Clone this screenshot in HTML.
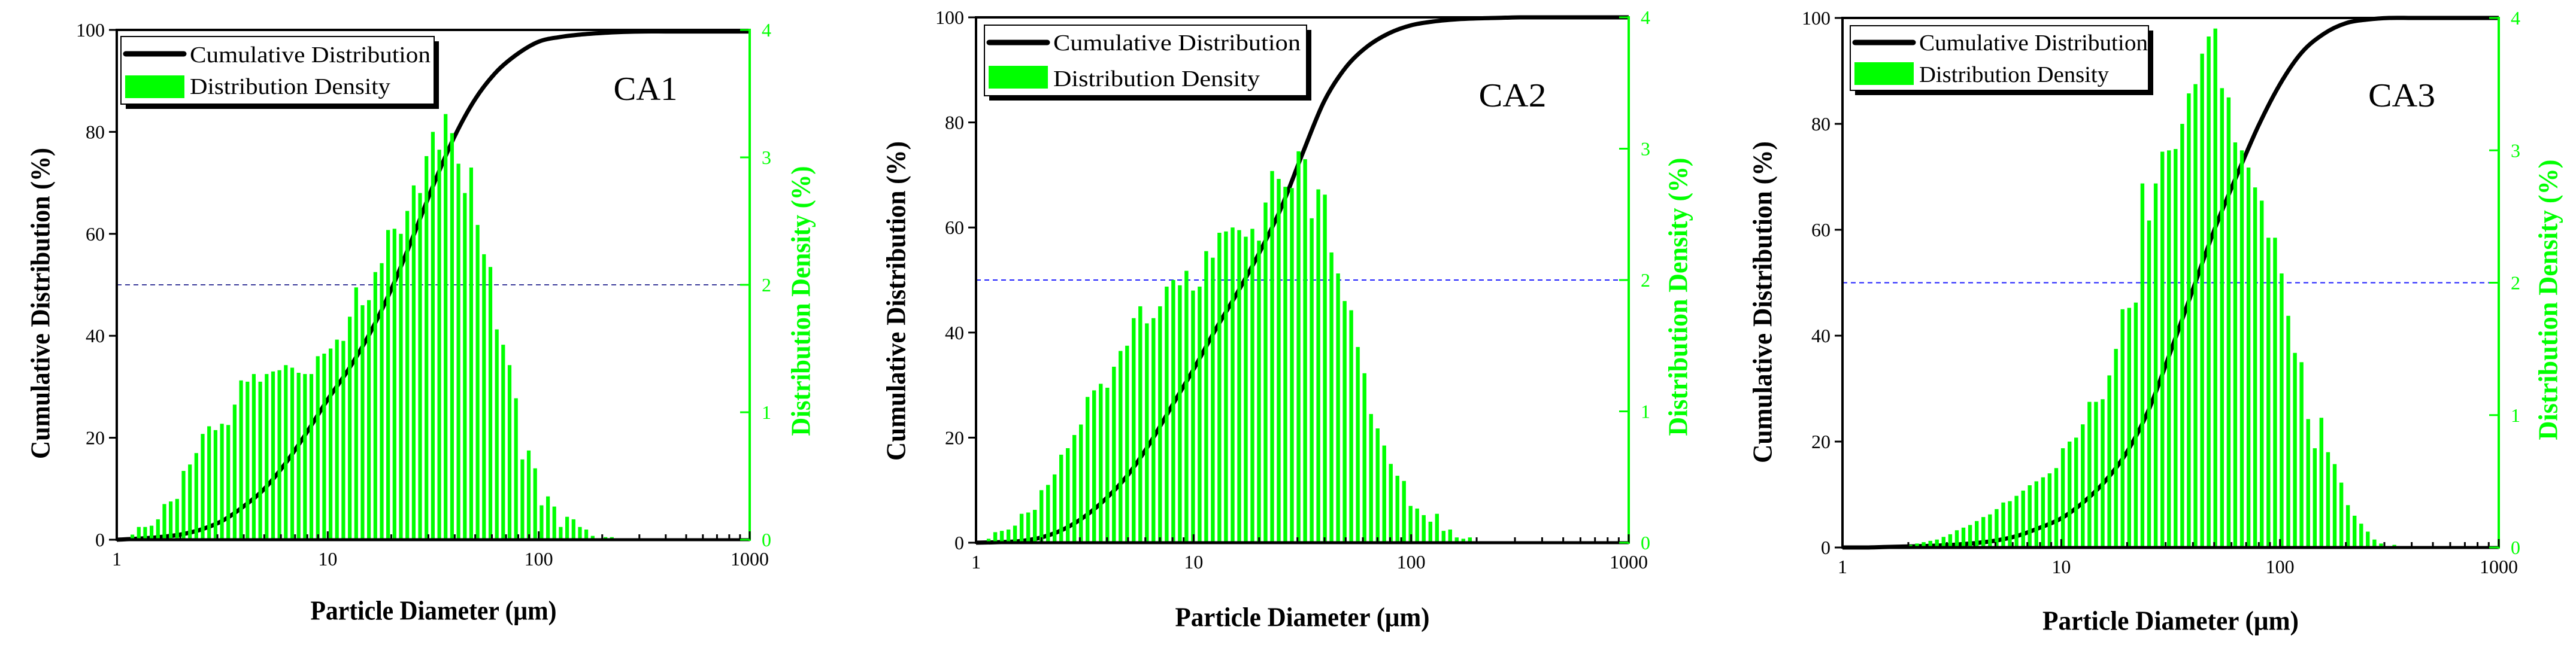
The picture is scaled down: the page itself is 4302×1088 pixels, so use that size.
<!DOCTYPE html>
<html><head><meta charset="utf-8"><style>
html,body{margin:0;padding:0;background:#fff;}
svg{display:block;}
text{font-family:"Liberation Serif",serif;}
</style></head>
<body>
<svg id="fig" width="4302" height="1088" viewBox="0 0 4302 1088" xmlns="http://www.w3.org/2000/svg"></svg>
<script>
// ---- data ----
const binsPerDecade = 33;
const xTickLabels = ["1","10","100","1000"];
const leftTickLabels = ["0","20","40","60","80","100"];
const rightTickLabels = ["0","1","2","3","4"];
const cumLogD = [0,0.1,0.2,0.3,0.4,0.5,0.6,0.7,0.8,0.9,1.0,1.1,1.2,1.3,1.4,1.5,1.6,1.7,1.8,1.9,2.0,2.1,2.2,2.3,2.4,2.5,2.6,2.7,2.8,2.9,3.0];

const ca1FirstBinLog = 0.074;
const ca1Density = [0.04,0.1,0.1,0.11,0.16,0.28,0.3,0.32,0.54,0.59,0.68,0.83,0.89,0.86,0.91,0.9,1.06,1.25,1.24,1.3,1.24,1.3,1.32,1.33,1.37,1.35,1.31,1.3,1.3,1.44,1.46,1.5,1.57,1.56,1.75,1.98,1.84,1.88,2.1,2.17,2.43,2.44,2.4,2.58,2.78,2.72,3.01,3.2,3.06,3.34,3.19,2.95,2.72,2.92,2.47,2.24,2.14,1.65,1.53,1.37,1.11,0.63,0.7,0.56,0.27,0.34,0.26,0.1,0.18,0.16,0.1,0.08,0.03,0.01,0.02,0.02];
const ca1Cum = [0,0.2,0.5,1,2,3.7,6.5,10,15,21,27.5,33.5,40.5,49,59,69.5,79,86.5,91.8,95.3,97.7,98.6,99.1,99.4,99.6,99.7,99.7,99.7,99.7,99.7,99.7];

const ca2FirstBinLog = 0.058;
const ca2Density = [0.03,0.08,0.09,0.1,0.13,0.22,0.23,0.25,0.4,0.44,0.52,0.67,0.72,0.82,0.9,1.11,1.16,1.21,1.18,1.34,1.46,1.5,1.71,1.8,1.67,1.71,1.8,1.95,2.0,1.96,2.07,1.92,1.95,2.22,2.17,2.36,2.37,2.4,2.38,2.33,2.39,2.3,2.59,2.83,2.77,2.71,2.7,2.98,2.92,2.47,2.69,2.65,2.21,2.05,1.84,1.77,1.49,1.29,0.98,0.87,0.74,0.6,0.51,0.47,0.28,0.26,0.21,0.16,0.22,0.09,0.1,0.04,0.03,0.04,0.01];
const ca2Cum = [0,0.1,0.3,1,2.5,5,8.5,13,19,26,33,40.5,47.5,55,63.5,74,84,90.5,94.5,97,98.5,99.2,99.6,99.8,99.9,100,100,100,100,100,100];

const ca3FirstBinLog = 0.25;
const ca3Density = [0.01,0.01,0.02,0.03,0.04,0.05,0.06,0.08,0.1,0.13,0.15,0.17,0.2,0.23,0.25,0.29,0.34,0.35,0.39,0.43,0.47,0.5,0.53,0.56,0.6,0.75,0.8,0.83,0.93,1.1,1.1,1.12,1.3,1.5,1.8,1.81,1.85,2.75,2.47,2.75,2.99,3.0,3.01,3.2,3.43,3.5,3.73,3.86,3.92,3.47,3.4,3.06,3.0,2.87,2.72,2.62,2.34,2.34,2.07,1.75,1.47,1.4,0.97,0.75,0.98,0.72,0.63,0.49,0.32,0.24,0.18,0.12,0.06,0.03,0.01,0.02];
const ca3Cum = [0,0,0.1,0.2,0.3,0.5,0.8,1.3,2.2,3.7,5.5,8.5,12.5,18,26,37,48.5,60,70,79.5,87.5,93.5,97,99,99.7,100,100,100,100,100,100];

// ---- drawing ----
const NS = "http://www.w3.org/2000/svg";
const svg = document.getElementById('fig');
const GREEN = "#00ff00";
function mk(tag, attrs, parent, txt){
  const e = document.createElementNS(NS, tag);
  for (const k in attrs) e.setAttribute(k, attrs[k]);
  if (txt !== undefined) e.textContent = txt;
  (parent || svg).appendChild(e);
  return e;
}

const panels = [
  {id:"ca1", label:"CA1", x0:195, x1:1252, yT:50, yB:902, first:ca1FirstBinLog, dens:ca1Density, cum:ca1Cum,
   lTitleX:67, lTitleY:507, lTitleLen:520, rTitleX:1337, rTitleY:503, rTitleLen:451,
   xTitleX:724, xTitleY:1020, xTitleLen:411, legX:202, legY:61, legW:523, legH:113,
   lineY:90, rectY:126, rectH:38, t1Len:402, t2Y:145, t2Len:335, t1Y:92, caX:1078, caY:149, caLen:107, dash:"#3a3a9a"},
  {id:"ca2", label:"CA2", x0:1630, x1:2720, yT:29, yB:907, first:ca2FirstBinLog, dens:ca2Density, cum:ca2Cum,
   lTitleX:1496, lTitleY:503, lTitleLen:534, rTitleX:2802, rTitleY:496, rTitleLen:465,
   xTitleX:2175, xTitleY:1031, xTitleLen:425, legX:1644, legY:42, legW:538, legH:118,
   lineY:71, rectY:110, rectH:38, t1Len:413, t2Y:132, t2Len:345, t1Y:72, caX:2526, caY:160, caLen:113, dash:"#2020ff"},
  {id:"ca3", label:"CA3", x0:3077, x1:4173, yT:30, yB:915, first:ca3FirstBinLog, dens:ca3Density, cum:ca3Cum,
   lTitleX:2943, lTitleY:505, lTitleLen:538, rTitleX:4255, rTitleY:501, rTitleLen:469,
   xTitleX:3625, xTitleY:1037, xTitleLen:428, legX:3090, legY:43, legW:498, legH:108,
   lineY:71, rectY:104, rectH:38, t1Len:382, t2Y:125, t2Len:317, t1Y:72, caX:4011, caY:160, caLen:112, dash:"#2020ff"}
];

function smoothPath(pts){
  let d = "M" + pts[0][0] + "," + pts[0][1];
  for (let i=0;i<pts.length-1;i++){
    const p0 = pts[Math.max(0,i-1)], p1 = pts[i], p2 = pts[i+1], p3 = pts[Math.min(pts.length-1,i+2)];
    const c1x = p1[0]+(p2[0]-p0[0])/6, c1y = p1[1]+(p2[1]-p0[1])/6;
    const c2x = p2[0]-(p3[0]-p1[0])/6, c2y = p2[1]-(p3[1]-p1[1])/6;
    d += " C"+c1x.toFixed(1)+","+c1y.toFixed(1)+" "+c2x.toFixed(1)+","+c2y.toFixed(1)+" "+p2[0].toFixed(1)+","+p2[1].toFixed(1);
  }
  return d;
}

panels.forEach(P => {
  const g = mk('g', {});
  
  
  const W = P.x1 - P.x0, H = P.yB - P.yT;
  const xs = lg => P.x0 + lg / 3 * W;           // log10(d) -> px
  const yL = v => P.yB - v / 100 * H;            // cumulative %
  const yR = v => P.yB - v / 4 * H;              // density %
  const pitch = W / 3 / binsPerDecade;
  const bw = pitch * 0.58;

  // dashed 50% line
  const dl = mk('line', {x1:P.x0, x2:P.x1, y1:yL(50), y2:yL(50), stroke:P.dash, 'stroke-width':2, 'stroke-dasharray':'8,6'}, g);
  
  

  // cumulative curve
  const pts = cumLogD.map((lg,i) => [xs(lg), yL(P.cum[i])]);
  const cp = mk('path', {d:smoothPath(pts), fill:'none', stroke:'#000', 'stroke-width':7, 'stroke-linejoin':'round'}, g);
  
  

  // density bars
  const bars = mk('g', {}, g);
  
  
  P.dens.forEach((v,i) => {
    const cx = xs(P.first + i / binsPerDecade);
    const r = mk('rect', {x:(cx-bw/2).toFixed(1), y:yR(v).toFixed(1), width:bw.toFixed(1), height:(P.yB-yR(v)).toFixed(1), fill:GREEN}, bars);
    
    
  });

  // axes
  mk('line', {x1:P.x0, x2:P.x1, y1:P.yT, y2:P.yT, stroke:'#000', 'stroke-width':4}, g);
  const la = mk('line', {x1:P.x0, x2:P.x0, y1:P.yT-2, y2:P.yB+2, stroke:'#000', 'stroke-width':4}, g);
  
  
  const ba = mk('line', {x1:P.x0, x2:P.x1, y1:P.yB, y2:P.yB, stroke:'#000', 'stroke-width':5}, g);
  
  
  const ra = mk('line', {x1:P.x1, x2:P.x1, y1:P.yT-2, y2:P.yB+2, stroke:GREEN, 'stroke-width':4}, g);
  
  

  // x ticks (inward) and labels
  for (let dec=0; dec<3; dec++){
    for (let m=2; m<=9; m++){
      const x = xs(dec + Math.log10(m));
      mk('line', {x1:x, x2:x, y1:P.yB, y2:P.yB-9, stroke:'#000', 'stroke-width':3}, g);
    }
  }
  xTickLabels.forEach((t,i) => {
    const x = xs(i);
    mk('line', {x1:x, x2:x, y1:P.yB, y2:P.yB-14, stroke:'#000', 'stroke-width':3}, g);
    const tl = mk('text', {x:x, y:P.yB+32, 'font-size':32, 'text-anchor':'middle', 'dominant-baseline':'central'}, g, t);
    
    
  });
  // left ticks (outward)
  leftTickLabels.forEach((t,i) => {
    const y = yL(i*20);
    mk('line', {x1:P.x0, x2:P.x0-13, y1:y, y2:y, stroke:'#000', 'stroke-width':3}, g);
    const tl = mk('text', {x:P.x0-20, y:y, 'font-size':32, 'text-anchor':'end', 'dominant-baseline':'central'}, g, t);
    
    
  });
  // right ticks (inward)
  rightTickLabels.forEach((t,i) => {
    const y = yR(i);
    mk('line', {x1:P.x1, x2:P.x1-16, y1:y, y2:y, stroke:GREEN, 'stroke-width':3}, g);
    const tl = mk('text', {x:P.x1+20, y:y, 'font-size':32, fill:GREEN, 'text-anchor':'start', 'dominant-baseline':'central'}, g, t);
    
    
  });

  // axis titles
  const lt = mk('text', {x:0, y:0, 'font-size':46, 'font-weight':'bold', 'text-anchor':'middle', 'dominant-baseline':'central',
    textLength:P.lTitleLen, lengthAdjust:'spacingAndGlyphs', transform:`translate(${P.lTitleX},${P.lTitleY}) rotate(-90)`}, g, 'Cumulative Distribution (%)');
  
  
  const rt = mk('text', {x:0, y:0, 'font-size':46, 'font-weight':'bold', fill:GREEN, 'text-anchor':'middle', 'dominant-baseline':'central',
    textLength:P.rTitleLen, lengthAdjust:'spacingAndGlyphs', transform:`translate(${P.rTitleX},${P.rTitleY}) rotate(-90)`}, g, 'Distribution Density (%)');
  
  
  const xt = mk('text', {x:P.xTitleX, y:P.xTitleY, 'font-size':46, 'font-weight':'bold', 'text-anchor':'middle', 'dominant-baseline':'central',
    textLength:P.xTitleLen, lengthAdjust:'spacingAndGlyphs'}, g, 'Particle Diameter (\u03bcm)');
  
  

  // legend
  const lg = mk('g', {}, g);
  
  
  mk('rect', {x:P.legX+8, y:P.legY+8, width:P.legW, height:P.legH, fill:'#000'}, lg);
  mk('rect', {x:P.legX, y:P.legY, width:P.legW, height:P.legH, fill:'#fff', stroke:'#000', 'stroke-width':2}, lg);
  mk('line', {x1:P.legX+8, x2:P.legX+105, y1:P.lineY, y2:P.lineY, stroke:'#000', 'stroke-width':9, 'stroke-linecap':'round'}, lg);
  mk('rect', {x:P.legX+7, y:P.rectY, width:99, height:P.rectH, fill:GREEN}, lg);
  const e1 = mk('text', {x:P.legX+115, y:P.t1Y, 'font-size':38, 'dominant-baseline':'central', textLength:P.t1Len, lengthAdjust:'spacingAndGlyphs'}, lg, 'Cumulative Distribution');
  
  
  const e2 = mk('text', {x:P.legX+115, y:P.t2Y, 'font-size':38, 'dominant-baseline':'central', textLength:P.t2Len, lengthAdjust:'spacingAndGlyphs'}, lg, 'Distribution Density');
  
  

  // panel label
  const ca = mk('text', {x:P.caX, y:P.caY, 'font-size':56, 'text-anchor':'middle', 'dominant-baseline':'central', textLength:P.caLen, lengthAdjust:'spacingAndGlyphs'}, g, P.label);
  
  
});
</script>
</body></html>
